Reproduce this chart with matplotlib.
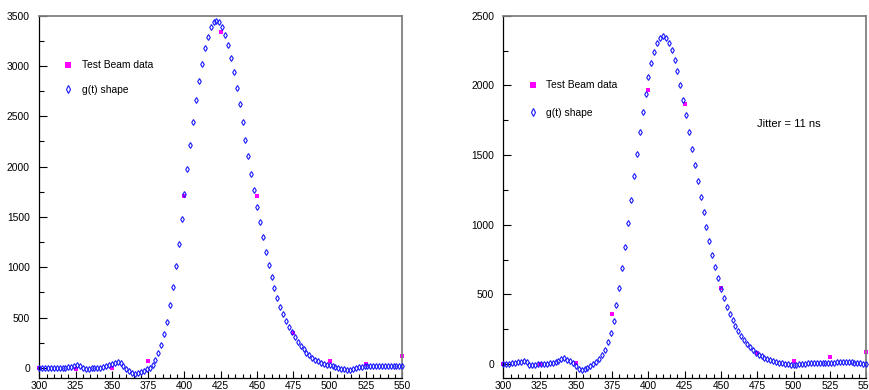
import matplotlib
matplotlib.use("Agg")
import matplotlib.pyplot as plt
import numpy as np
from matplotlib.ticker import MultipleLocator

plt.rcParams["font.family"] = ["Liberation Sans", "DejaVu Sans"]

# time axis shared by both panels (ns), g(t) sampled every 2 ns
t_shape = np.arange(300, 551, 2)
t_beam = np.arange(300, 551, 25)

# left panel
left_shape = [
    3, 3, 3, 0, -3, -3, -3, 0, 0, 3,
    7, 10, 16, 26, 20, 0, -13, -10, -3, 0,
    -3, -3, 7, 16, 26, 36, 50, 60, 50, 20,
    -7, -30, -46, -63, -50, -36, -26, -13, 3, 33,
    83, 146, 228, 334, 460, 622,
    807, 1009, 1234, 1482, 1730, 1975, 2213, 2445, 2660, 2855,
    3023, 3176, 3293, 3386, 3436, 3452, 3436, 3386, 3311, 3209,
    3083, 2941, 2782, 2620, 2448, 2269, 2101, 1929, 1766, 1601,
    1446, 1297, 1148, 1022, 906, 791, 695, 605, 533, 463,
    404, 354, 304, 261, 222, 185, 152, 126, 99, 79,
    66, 53, 40, 30,
    25, 15, 5, -3, -10, -15, -18, -17, -12, -3,
    5, 12, 16, 18, 18, 17, 16, 15, 15, 16,
    18, 20, 22, 23, 22, 22,
]
left_beam = [-3, -10, 0, 70, 1710, 3341, 1713, 347, 70, 36, 122]

# right panel
right_shape = [
    0, 0, 2, 5, 8, 12, 18, 20, 12, -5,
    -10, -5, 0, 0, -2, 0, 5, 10, 15, 25,
    35, 40, 30, 20, 5, -15, -36, -43, -36, -26,
    -17, -2, 12, 36, 64, 98, 155, 222, 310,
    425, 547, 688, 841, 1009, 1176, 1346, 1508, 1663, 1809,
    1941, 2058, 2163, 2242, 2306, 2342, 2357, 2337, 2306, 2254,
    2182, 2101, 2000, 1895, 1785, 1666, 1546, 1432, 1315, 1202,
    1092, 982, 884, 781, 695, 614, 538, 473, 413, 361,
    315, 272, 237, 203, 174, 146, 122, 100, 81, 67,
    55, 43, 33, 26, 22, 14, 10, 5, 0, -2,
    -5,
    -5, -5, -3, 0, 3, 5, 8, 10, 10, 10,
    10, 9, 8, 9, 10, 12, 14, 15, 15, 14,
    12, 10, 8, 5, 2, 0,
]
right_beam = [0, 0, 5, 356, 1967, 1867, 545, 80, 25, 50, 90]

x_ticks = [300, 325, 350, 375, 400, 425, 450, 475, 500, 525, 550]

fig = plt.figure(figsize=(8.69, 3.9), dpi=100)
ax_l = fig.add_axes([0.0452, 0.0308, 0.4177, 0.929])
ax_r = fig.add_axes([0.5792, 0.0308, 0.4174, 0.929])

panels = [
    (ax_l, left_shape, left_beam, 3500, (0.066, 0.877), 1.4),
    (ax_r, right_shape, right_beam, 2500, (0.0676, 0.822), 1.7),
]

for ax, shape, beam, ytop, anchor, spacing in panels:
    ax.plot(t_beam, beam, "s", color="#ff00ff", ms=3.2, mew=0,
            label="Test Beam data", zorder=2, clip_on=False)
    ax.plot(t_shape, shape, "d", color="#1a1aff", mfc="none", ms=3.0,
            mew=0.8, label="g(t) shape", zorder=3, clip_on=False)

    ax.set_xlim(300, 550)
    ax.set_ylim(-100, ytop)
    ax.set_xticks(x_ticks)
    ax.xaxis.set_minor_locator(MultipleLocator(5))
    ax.yaxis.set_major_locator(MultipleLocator(500))
    ax.yaxis.set_minor_locator(MultipleLocator(250))
    ax.tick_params(which="both", direction="in", top=False, right=False,
                   labelsize=7.4)
    ax.tick_params(axis="y", which="major", length=6, width=0.8, pad=6.7)
    ax.tick_params(axis="y", which="minor", length=3.3, width=0.8)
    ax.tick_params(axis="x", which="major", length=5, width=0.8, pad=2.2)
    ax.tick_params(axis="x", which="minor", length=2.7, width=0.8)

    for side in ("top", "right"):
        ax.spines[side].set_color("#808080")
        ax.spines[side].set_linewidth(1.3)
    for side in ("left", "bottom"):
        ax.spines[side].set_color("black")
        ax.spines[side].set_linewidth(0.9)

    ax.legend(loc="upper left", bbox_to_anchor=anchor, frameon=False,
              fontsize=7.4, handlelength=1.0, handletextpad=0.8,
              labelspacing=spacing, borderpad=0, borderaxespad=0,
              markerscale=1.4)

ax_r.text(0.699, 0.701, "Jitter = 11 ns", transform=ax_r.transAxes,
          fontsize=8, ha="left", va="center")

fig.savefig("out.png", dpi=100)
